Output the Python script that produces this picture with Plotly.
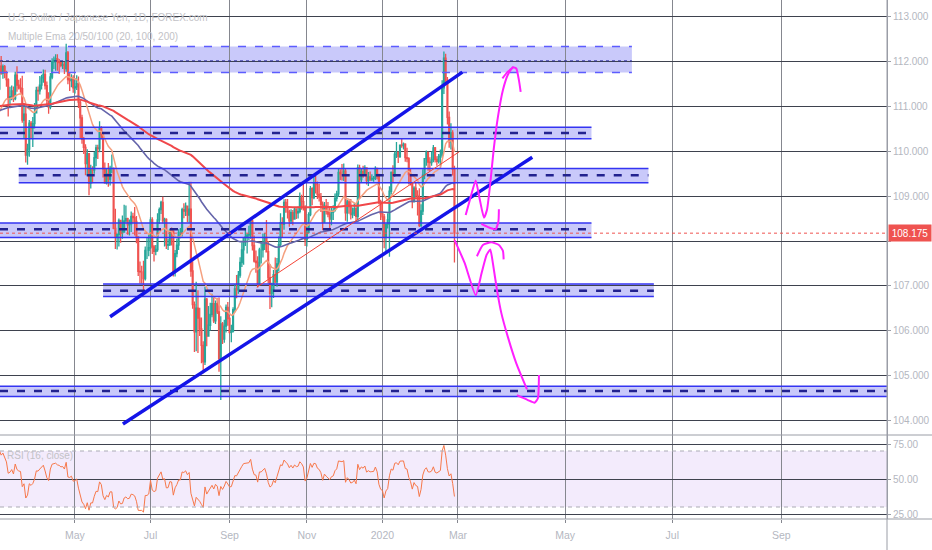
import pandas as pd
import plotly.graph_objects as go

# ---------------- data ----------------
first_open = 111.39

closes = [
    # Mar 2019
    111.90, 111.75, 111.89, 111.76, 111.60, 111.17, 111.22, 111.35, 111.18, 111.70, 111.48, 111.42, 111.40, 110.70, 110.83, 109.92, 110.05, 110.63, 110.52, 110.62, 110.86,
    # Apr
    111.36, 111.35, 111.48, 111.64, 111.72, 111.47, 111.14, 110.99, 111.66, 112.00, 112.03, 112.07, 112.00, 111.98, 111.92, 111.94, 111.85, 112.20, 111.60, 111.58, 111.64, 111.42,
    # May
    111.44, 111.51, 111.10, 110.75, 110.27, 110.09, 109.73, 109.95, 109.29, 109.59, 109.58, 109.86, 110.08, 110.06, 110.52, 110.37, 109.61, 109.30, 109.50, 109.38, 109.62, 109.62, 108.28,
    # Jun
    108.09, 108.15, 108.46, 108.18, 108.20, 108.45, 108.50, 108.36, 108.38, 108.55, 108.52, 108.44, 108.09, 107.32, 107.31, 107.31, 107.16, 107.79, 107.79, 107.85,
    # Jul
    108.47, 107.87, 107.77, 107.81, 108.47, 108.70, 108.86, 108.45, 108.48, 107.91, 107.92, 108.24, 108.22, 107.32, 107.72, 107.91, 108.19, 108.19, 108.70, 108.67, 108.78, 108.58, 108.71,
    # Aug
    107.33, 106.58, 105.97, 106.50, 106.28, 106.04, 105.67, 105.30, 106.70, 105.88, 106.12, 106.36, 106.60, 106.22, 106.60, 106.42, 105.38, 106.15, 105.81, 106.10, 106.52, 106.27,
    # Sep
    105.96, 105.99, 106.47, 106.93, 106.91, 107.24, 107.52, 107.80, 108.07, 108.09, 108.13, 108.15, 108.45, 107.90, 107.55, 107.52, 107.05, 107.80, 107.80, 107.92, 108.08,
    # Oct
    107.76, 107.18, 106.83, 106.92, 107.25, 107.09, 107.49, 107.92, 108.41, 108.37, 108.86, 108.75, 108.65, 108.45, 108.63, 108.49, 108.71, 108.63, 108.66, 108.96, 108.88, 108.74, 108.03,
    # Nov
    108.19, 108.59, 109.17, 108.97, 109.28, 109.26, 109.04, 108.98, 108.82, 108.42, 108.78, 108.67, 108.60, 108.49, 108.64, 108.68, 108.95, 109.05, 109.53, 109.50, 109.50,
    # Dec
    109.56, 108.63, 108.87, 108.77, 108.59, 108.62, 108.72, 108.55, 109.63, 109.37, 109.55, 109.49, 109.63, 109.35, 109.43, 109.38, 109.39, 109.40, 109.62, 109.44, 108.88, 108.61,
    # Jan 2020
    108.54, 108.08, 108.37, 108.47, 109.11, 109.53, 109.47, 109.94, 109.98, 109.89, 110.14, 110.13, 110.16, 109.86, 109.84, 109.48, 109.28, 108.88, 109.18, 109.02, 108.97, 108.35,
    # Feb 2020
    108.67, 109.47, 109.84, 109.98, 109.76, 109.75, 109.81, 110.08, 109.82, 109.78, 109.88, 109.92, 111.42, 112.08, 111.59, 110.76, 110.22, 110.41, 109.60, 108.175,
]

highs = [
    112.08, 112.13, 111.94, 111.93, 111.80, 111.63, 111.44, 111.47, 111.45, 111.78, 111.90, 111.60, 111.63, 111.69, 111.07, 111.00, 110.17, 110.70, 110.68, 110.77, 111.08,
    111.44, 111.45, 111.68, 111.71, 111.83, 111.82, 111.56, 111.32, 111.75, 112.08, 112.12, 112.17, 112.17, 112.06, 111.98, 112.00, 112.00, 112.40, 112.24, 111.77, 111.72, 111.70,
    111.64, 111.70, 111.67, 111.15, 110.82, 110.32, 110.16, 110.05, 109.95, 109.70, 109.67, 109.99, 110.15, 110.15, 110.67, 110.56, 110.37, 109.75, 109.63, 109.74, 109.68, 109.93, 109.64,
    108.72, 108.17, 108.50, 108.45, 108.57, 108.81, 108.79, 108.52, 108.48, 108.66, 108.63, 108.76, 108.56, 108.06, 107.54, 107.45, 107.56, 107.88, 108.08, 108.16,
    108.53, 108.53, 107.91, 107.91, 108.62, 108.75, 108.90, 108.99, 108.52, 108.51, 108.05, 108.28, 108.30, 108.24, 107.80, 108.05, 108.26, 108.29, 108.74, 108.84, 108.86, 108.79, 109.32,
    109.32, 107.55, 106.65, 107.09, 106.90, 106.51, 106.29, 105.76, 106.98, 106.73, 106.55, 106.62, 106.82, 106.74, 106.67, 106.72, 106.74, 106.32, 106.19, 106.24, 106.58, 106.64,
    106.30, 106.13, 106.52, 107.04, 107.24, 107.33, 107.64, 107.97, 108.08, 108.26, 108.17, 108.34, 108.48, 108.48, 108.12, 107.79, 107.66, 107.85, 107.97, 108.17, 108.18,
    108.47, 108.00, 107.48, 107.07, 107.35, 107.63, 107.62, 108.10, 108.62, 108.53, 108.93, 108.94, 108.94, 108.70, 108.71, 108.69, 108.76, 108.73, 108.77, 109.08, 109.03, 109.29, 108.80,
    108.31, 108.64, 109.23, 109.20, 109.48, 109.49, 109.33, 109.28, 109.07, 108.88, 108.87, 108.94, 108.87, 108.76, 108.75, 108.80, 109.06, 109.12, 109.61, 109.60, 109.72,
    109.73, 109.62, 108.92, 108.92, 108.94, 108.75, 108.84, 108.82, 109.71, 109.70, 109.63, 109.68, 109.69, 109.64, 109.54, 109.55, 109.49, 109.45, 109.67, 109.62, 109.50, 108.92,
    108.87, 108.60, 108.38, 108.62, 109.22, 109.55, 109.69, 110.00, 110.21, 110.00, 110.15, 110.29, 110.20, 110.18, 110.08, 109.87, 109.62, 109.20, 109.22, 109.31, 109.13, 109.18,
    108.82, 109.60, 109.85, 110.02, 109.99, 109.87, 110.00, 110.14, 110.10, 109.89, 109.94, 110.04, 111.59, 112.23, 112.18, 111.66, 110.89, 110.63, 110.47, 109.68,
]

lows = [
    111.36, 111.71, 111.62, 111.63, 111.44, 110.78, 111.04, 111.14, 111.10, 111.14, 111.33, 111.38, 111.31, 110.64, 110.29, 109.75, 109.70, 109.88, 110.29, 110.10, 110.51,
    110.86, 111.13, 111.27, 111.38, 111.53, 111.38, 111.05, 110.84, 110.94, 111.61, 111.84, 111.80, 111.80, 111.73, 111.88, 111.84, 111.73, 111.78, 111.50, 111.35, 111.43, 111.31,
    111.29, 111.37, 110.97, 110.28, 110.17, 109.94, 109.47, 109.46, 109.02, 109.17, 109.29, 109.50, 109.67, 109.83, 109.98, 110.27, 109.42, 109.28, 109.26, 109.21, 109.24, 109.52, 108.26,
    107.82, 107.81, 107.88, 107.96, 108.05, 108.34, 108.41, 108.14, 108.12, 108.20, 108.40, 108.12, 107.95, 107.22, 107.05, 107.05, 106.78, 107.12, 107.60, 107.66,
    107.82, 107.71, 107.54, 107.68, 107.76, 108.38, 108.60, 108.39, 107.88, 107.82, 107.80, 107.89, 107.90, 107.21, 107.21, 107.64, 107.80, 108.06, 108.10, 108.51, 108.56, 108.42, 108.41,
    107.20, 106.49, 105.52, 105.54, 105.50, 105.88, 105.27, 105.05, 105.23, 105.65, 105.88, 106.00, 106.30, 106.17, 106.15, 106.37, 105.08, 104.45, 105.70, 105.73, 105.96, 106.11,
    105.93, 105.74, 105.96, 106.41, 106.72, 106.82, 107.18, 107.42, 107.47, 107.89, 107.72, 108.02, 108.05, 107.79, 107.52, 107.29, 106.96, 107.00, 107.50, 107.63, 107.80,
    107.75, 107.05, 106.48, 106.52, 106.73, 107.06, 106.98, 107.32, 107.87, 108.08, 108.25, 108.63, 108.50, 108.32, 108.38, 108.35, 108.48, 108.49, 108.50, 108.62, 108.70, 108.68, 107.89,
    107.88, 108.21, 108.55, 108.80, 108.93, 109.06, 108.94, 108.88, 108.65, 108.24, 108.40, 108.59, 108.53, 108.27, 108.35, 108.47, 108.66, 108.88, 108.99, 109.36, 109.35,
    109.34, 108.45, 108.43, 108.61, 108.48, 108.51, 108.56, 108.44, 108.46, 108.94, 109.30, 109.41, 109.46, 109.26, 109.23, 109.34, 109.34, 109.32, 109.36, 109.37, 108.82, 108.47,
    108.47, 107.84, 107.77, 108.28, 107.65, 109.04, 109.31, 109.43, 109.85, 109.74, 109.85, 110.08, 110.04, 109.77, 109.76, 109.26, 109.24, 108.73, 108.86, 108.96, 108.57, 108.31,
    108.31, 108.58, 109.38, 109.68, 109.57, 109.56, 109.68, 109.76, 109.75, 109.68, 109.73, 109.66, 109.86, 111.28, 111.50, 110.60, 110.08, 110.04, 109.46, 107.52,
]

last_price = 108.175

# indicator settings and their starting values read at the left edge
ema_periods = [20, 100, 200]
ema_seeds = [110.78, 110.89, 111.00]
rsi_period = 16
rsi_seed = [0.12, 0.065]  # average gain, average loss before first bar

# horizontal zones (prices) and their time extents
zone_top = [112.34, 110.54, 109.62, 108.40, 107.04, 104.76]
zone_mid = [112.02, 110.41, 109.47, 108.26, 106.89, 104.65]
zone_bot = [111.76, 110.28, 109.30, 108.08, 106.76, 104.53]
zone_start = [None, None, "2019-03-18", None, "2019-05-23", None]
zone_end = ["2020-06-08", "2020-05-16", "2020-06-17 10:00", "2020-05-16", "2020-06-20 12:00", None]

# trend lines (date, price)
channel_upper = [("2019-05-29", 106.31), ("2020-03-03 12:00", 111.77)]
channel_lower = [("2019-06-07 07:00", 103.915), ("2020-04-12 07:00", 109.87)]
thin_trend = [("2019-09-23 12:00", 106.97), ("2020-03-01 16:00", 109.99)]

# freehand magenta strokes: (days after last bar, price)
strokes = [
    [(0.1, 108.02), (5.8, 107.51), (12.1, 106.79), (15.5, 107.29), (18.3, 107.69), (20.4, 107.81),
     (21.9, 107.50), (24.2, 106.91), (26.7, 106.39), (30.4, 105.86), (35.2, 105.27), (41.3, 104.69)],
    [(12.8, 107.66), (16.2, 107.91), (21.0, 107.97), (25.3, 107.91), (27.6, 107.78), (28.0, 107.59)],
    [(35.6, 104.56), (41.8, 104.45), (45.6, 104.39), (47.5, 104.49), (48.1, 105.01)],
    [(6.4, 108.58), (9.0, 108.95), (12.1, 109.35), (14.3, 108.95), (16.8, 108.52), (18.5, 108.69),
     (20.4, 109.29), (22.3, 110.03), (24.8, 110.78), (27.6, 111.37), (30.4, 111.71), (33.3, 111.88),
     (35.2, 111.85), (36.7, 111.59), (37.7, 111.33)],
    [(27.3, 111.63), (30.4, 111.78), (33.7, 111.88)],
    [(15.3, 108.38), (19.1, 108.31), (23.4, 108.26), (25.0, 108.43), (25.3, 108.71)],
]

month_tick_dates = ["2019-05-01", "2019-07-01", "2019-09-02", "2019-11-01", "2020-01-02",
                    "2020-03-01", "2020-05-01", "2020-07-01", "2020-09-01"]
month_tick_text = ["May", "Jul", "Sep", "Nov", "2020", "Mar", "May", "Jul", "Sep"]
price_ticks = [104, 105, 106, 107, 108, 109, 110, 111, 112, 113]
price_tick_text = ["104.000", "105.000", "106.000", "107.000", "", "109.000", "110.000", "111.000", "112.000", "113.000"]
rsi_ticks = [25, 50, 75]
rsi_tick_text = ["25.00", "50.00", "75.00"]

# ---------------- derived ----------------
dates = [d for d in pd.bdate_range("2019-03-01", "2020-02-28") if d != pd.Timestamp("2020-01-01")]
opens = [first_open] + closes[:-1]  # 24h market: each bar opens at prior close
highs = [max(h, o, c) for h, o, c in zip(highs, opens, closes)]
lows = [min(l, o, c) for l, o, c in zip(lows, opens, closes)]
last_date = dates[-1]

def ema(vals, n, seed):
    a = 2.0 / (n + 1)
    e = seed
    out = []
    for v in vals:
        e = e + a * (v - e)
        out.append(e)
    return out

emas = [ema(closes, n, s) for n, s in zip(ema_periods, ema_seeds)]

ag, al = rsi_seed
prev = first_open
rsi = []
for c in closes:
    ch = c - prev
    ag = (ag * (rsi_period - 1) + max(ch, 0)) / rsi_period
    al = (al * (rsi_period - 1) + max(-ch, 0)) / rsi_period
    rsi.append(100 - 100 / (1 + ag / al))
    prev = c

x_start = "2019-03-01 08:00"
x_end = "2020-10-31 05:00"
breaks = [d.strftime("%Y-%m-%d") for d in pd.date_range("2019-03-02", "2020-02-23") if d.weekday() >= 5]
breaks.append("2020-01-01")

# ---------------- styling ----------------
FONT = "Liberation Sans, Arial, sans-serif"
HGRID = "#3e424e"
VGRID = "#85878f"
LABEL = "#b4b7bf"
AXIS = "#9a9da6"
TITLE = "#c2c2c6"
ZONE_FILL = "rgba(40,40,235,0.25)"
ZONE_EDGE = "#3434f2"
ZONE_MID = "#22228f"
DASH = "8px,9px"

fig = go.Figure()

fig.add_trace(go.Candlestick(
    x=dates, open=opens, high=highs, low=lows, close=closes,
    increasing=dict(line=dict(color="#26a69a", width=1.3), fillcolor="#26a69a"),
    decreasing=dict(line=dict(color="#ef5350", width=1.3), fillcolor="#ef5350"),
    whiskerwidth=0, showlegend=False, hoverinfo="skip", xaxis="x", yaxis="y"))

ema_colors = ["#f5a07f", "#6464aa", "#f0474a"]
ema_widths = [1.5, 1.6, 2.0]
for vals, col, w in zip(emas, ema_colors, ema_widths):
    fig.add_trace(go.Scatter(x=dates, y=vals, mode="lines", line=dict(color=col, width=w),
                             showlegend=False, hoverinfo="skip", xaxis="x", yaxis="y"))

shapes = []
for i in range(len(zone_top)):
    xs = zone_start[i] or x_start
    xe = zone_end[i] or x_end
    shapes.append(dict(type="rect", xref="x", yref="y", x0=xs, x1=xe, y0=zone_bot[i], y1=zone_top[i],
                       fillcolor=ZONE_FILL, line=dict(width=0), layer="below"))
    if i == 0:
        edge = dict(color="#5c5cff", width=1.5, dash=DASH)
        mid = dict(color="#2a2a9a", width=1, dash="dot")
    else:
        edge = dict(color=ZONE_EDGE, width=1.5)
        mid = dict(color=ZONE_MID, width=2.5, dash=DASH)
    for yv, st in ((zone_top[i], edge), (zone_bot[i], edge), (zone_mid[i], mid)):
        fig.add_trace(go.Scatter(x=[xs, xe], y=[yv, yv], mode="lines", line=st,
                                 showlegend=False, hoverinfo="skip", xaxis="x", yaxis="y"))

for seg, col, w in ((thin_trend, "#f44336", 1), (channel_upper, "#1414e8", 3.5), (channel_lower, "#1414e8", 3.5)):
    fig.add_trace(go.Scatter(x=[p[0] for p in seg], y=[p[1] for p in seg], mode="lines",
                             line=dict(color=col, width=w), showlegend=False, hoverinfo="skip",
                             xaxis="x", yaxis="y"))

for st in strokes:
    fig.add_trace(go.Scatter(x=[last_date + pd.Timedelta(days=d) for d, _ in st], y=[p for _, p in st],
                             mode="lines", line=dict(color="#ff1fff", width=2, shape="spline", smoothing=0.5),
                             showlegend=False, hoverinfo="skip", xaxis="x", yaxis="y"))

# RSI pane
shapes.append(dict(type="rect", xref="paper", yref="y2", x0=0, x1=1, y0=30, y1=70,
                   fillcolor="rgba(155,90,230,0.12)", line=dict(width=0), layer="below"))
for lv in (30, 70):
    shapes.append(dict(type="line", xref="paper", yref="y2", x0=0, x1=1, y0=lv, y1=lv,
                       line=dict(color="#ababb5", width=1, dash="4px,4px"), layer="above"))
fig.add_trace(go.Scatter(x=dates, y=rsi, mode="lines", line=dict(color="#f7784a", width=1),
                         showlegend=False, hoverinfo="skip", xaxis="x", yaxis="y2"))

# last price line
shapes.append(dict(type="line", xref="paper", yref="y", x0=0, x1=1, y0=last_price, y1=last_price,
                   line=dict(color="#ef5350", width=1, dash="dot"), layer="above"))

# pane separators and axis line extension
pane_split = 84 / 519
shapes.append(dict(type="line", xref="paper", yref="paper", x0=0, x1=932 / 887, y0=pane_split, y1=pane_split,
                   line=dict(color=AXIS, width=1)))
shapes.append(dict(type="line", xref="paper", yref="paper", x0=0, x1=932 / 887, y0=0, y1=0,
                   line=dict(color=AXIS, width=1)))
shapes.append(dict(type="line", xref="paper", yref="paper", x0=1, x1=1, y0=-31 / 519, y1=1,
                   line=dict(color=AXIS, width=1)))

annotations = [
    dict(text="U.S. Dollar / Japanese Yen, 1D, FOREX.com", xref="paper", yref="paper",
         x=6 / 887, y=(519 - 18) / 519, xanchor="left", yanchor="middle", showarrow=False,
         font=dict(size=10, color=TITLE, family=FONT)),
    dict(text="Multiple Ema 20/50/100 (20, 100, 200)", xref="paper", yref="paper",
         x=6 / 887, y=(519 - 37) / 519, xanchor="left", yanchor="middle", showarrow=False,
         font=dict(size=10, color=TITLE, family=FONT)),
    dict(text="RSI (16, close)", xref="paper", yref="paper",
         x=5 / 887, y=(519 - 455) / 519, xanchor="left", yanchor="middle", showarrow=False,
         font=dict(size=10, color=TITLE, family=FONT)),
    dict(text=f"{last_price:.3f}", xref="paper", yref="y", x=1, y=last_price, xanchor="left",
         yanchor="middle", showarrow=False, bgcolor="#ef5350", width=40, height=14, align="center",
         xshift=1, font=dict(size=10, color="white", family=FONT)),
]

axis_common = dict(automargin=False, zeroline=False)

fig.update_layout(
    template="none",
    width=932, height=550, autosize=False,
    margin=dict(l=0, r=45, t=0, b=31, pad=0, autoexpand=False),
    paper_bgcolor="white", plot_bgcolor="white",
    font=dict(family=FONT, size=10, color=LABEL),
    hovermode=False, dragmode=False, showlegend=False,
    shapes=shapes, annotations=annotations,
    xaxis=dict(type="date", range=[x_start, x_end], rangeslider=dict(visible=False),
               rangebreaks=[dict(values=breaks, dvalue=86400000)],
               tickmode="array", tickvals=month_tick_dates, ticktext=month_tick_text,
               showgrid=True, gridcolor=VGRID, gridwidth=1, showline=False,
               ticks="outside", ticklen=3, tickcolor=VGRID, ticklabelstandoff=3,
               tickfont=dict(size=10.5, color=LABEL), anchor="y2", **axis_common),
    yaxis=dict(domain=[pane_split, 1], range=[103.670, 113.379], side="right",
               tickmode="array", tickvals=price_ticks, ticktext=price_tick_text,
               showgrid=True, gridcolor=HGRID, gridwidth=1,
               showline=True, linecolor=AXIS, ticks="outside", ticklen=3, tickcolor=AXIS,
               tickfont=dict(size=10, color=LABEL), anchor="x", **axis_common),
    yaxis2=dict(domain=[0, pane_split], range=[21.43, 81.43], side="right",
                tickmode="array", tickvals=rsi_ticks, ticktext=rsi_tick_text,
                showgrid=True, gridcolor=HGRID, gridwidth=1,
                showline=True, linecolor=AXIS, ticks="outside", ticklen=3, tickcolor=AXIS,
                tickfont=dict(size=10, color=LABEL), anchor="x", **axis_common),
)

fig.write_html("out.html", config={"displayModeBar": False, "staticPlot": True},
               post_script="document.body.style.margin='0';document.body.style.overflow='hidden';")
